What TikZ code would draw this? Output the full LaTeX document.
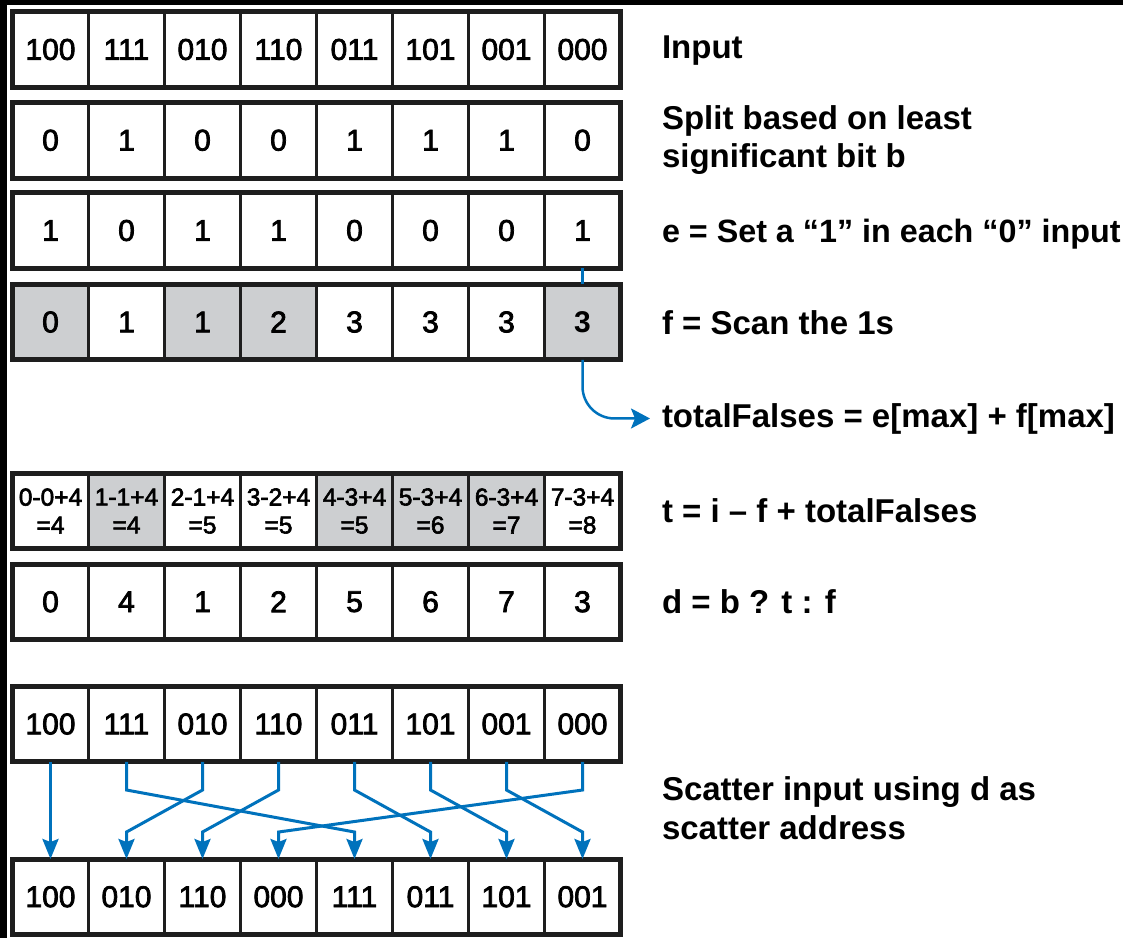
\documentclass[tikz,border=0pt]{standalone}
\usepackage{fontspec}
\setmainfont{Liberation Sans}
\newfontface\cellfont{Liberation Sans}[FakeBold=2.5]
\usetikzlibrary{arrows.meta}
\definecolor{flowblue}{RGB}{0,114,188}
\definecolor{cellgray}{RGB}{205,207,209}
\definecolor{inkblack}{RGB}{30,30,30}
\begin{document}
\begin{tikzpicture}[x=1pt,y=-1pt,
  cell/.style={draw=inkblack, line width=2.5pt, fill=white, minimum width=76pt,
    minimum height=75.5pt, inner sep=0pt, outer sep=0pt,
    font=\cellfont\fontsize{30}{30}\selectfont},
  boldcell/.style={cell, font=\fontsize{30}{30}\selectfont\bfseries},
  smallcell/.style={cell, font=\cellfont\fontsize{24.5}{28}\selectfont, align=center},
  frame/.style={draw=inkblack, line width=5pt},
  lab/.style={inner sep=0pt, outer sep=0pt, font=\fontsize{33}{38.5}\selectfont\bfseries, align=left},
  flow/.style={draw=flowblue, line width=3pt, -{Stealth[length=20pt,width=16pt,inset=3pt]}},
  link/.style={draw=flowblue, line width=2.5pt}
]
\useasboundingbox (0,0) rectangle (1123,938);
\fill[black] (0,0) rectangle (1123,938);
\fill[white] (7,5) rectangle (1123,938);

% Row 1: input
\foreach \v [count=\i from 0] in {100,111,010,110,011,101,001,000}
  \node[cell] (in\i) at ({50.5+76*\i},49.5) {\v};
\draw[frame] (in0.north west) rectangle (in7.south east);

% Row 2: split bits b
\foreach \v [count=\i from 0] in {0,1,0,0,1,1,1,0}
  \node[cell] (sp\i) at ({50.5+76*\i},140.25) {\v};
\draw[frame] (sp0.north west) rectangle (sp7.south east);

% Row 3: e
\foreach \v [count=\i from 0] in {1,0,1,1,0,0,0,1}
  \node[cell] (ev\i) at ({50.5+76*\i},230.5) {\v};
\draw[frame] (ev0.north west) rectangle (ev7.south east);

% Row 4: f
\foreach \v/\f [count=\i from 0] in {0/cellgray,1/white,1/cellgray,2/cellgray,3/white,3/white,3/white}
  \node[cell, fill=\f] (fs\i) at ({50.5+76*\i},322) {\v};
\node[boldcell, fill=cellgray] (fs7) at ({50.5+76*7},322) {3};
\draw[frame] (fs0.north west) rectangle (fs7.south east);

% Row t
\foreach \a/\b/\f [count=\i from 0] in {0-0+4/4/white,1-1+4/4/cellgray,2-1+4/5/white,3-2+4/5/white,4-3+4/5/cellgray,5-3+4/6/cellgray,6-3+4/7/cellgray,7-3+4/8/white}
  \node[smallcell, fill=\f] (tv\i) at ({50.5+76*\i},511) {\a\\=\b};
\draw[frame] (tv0.north west) rectangle (tv7.south east);

% Row d
\foreach \v [count=\i from 0] in {0,4,1,2,5,6,7,3}
  \node[cell] (dv\i) at ({50.5+76*\i},601.75) {\v};
\draw[frame] (dv0.north west) rectangle (dv7.south east);

% Row scatter source
\foreach \v [count=\i from 0] in {100,111,010,110,011,101,001,000}
  \node[cell] (sc\i) at ({50.5+76*\i},724) {\v};
\draw[frame] (sc0.north west) rectangle (sc7.south east);

% Row output
\foreach \v [count=\i from 0] in {100,010,110,000,111,011,101,001}
  \node[cell] (ou\i) at ({50.5+76*\i},896.75) {\v};
\draw[frame] (ou0.north west) rectangle (ou7.south east);

% Labels
\node[lab, anchor=base west] (lin) at (662,58) {Input};
\node[lab, anchor=west] (lsp) at (662,140) {Split based on least\\significant bit b};
\node[lab, anchor=base west, font=\fontsize{32.3}{38.5}\selectfont\bfseries] (lev) at (662,242) {e = Set a “1” in each “0” input};
\node[lab, anchor=base west] (lfs) at (662,334) {f = Scan the 1s};
\node[lab, anchor=base west] (ltf) at (662,427) {totalFalses = e[max] + f[max]};
\node[lab, anchor=base west] (ltv) at (662,522) {t = i -- f + totalFalses};
\node[lab, anchor=base west] (ldv) at (662,613) {d = b ? t : f};
\node[lab, anchor=west] (lsc) at (662,808) {Scatter input using d as\\scatter address};

% totalFalses connector
\draw[link] (ev7.south) -- (fs7.north);
\draw[link, rounded corners=32pt, shorten >=12pt,
  -{Stealth[length=19pt,width=20pt,inset=4pt]}] (fs7.south) |- (ltf.west);

% Scatter connectors
\coordinate (up) at (0,790);
\coordinate (lo) at (0,832);
\foreach \s/\t in {0/0,1/4,2/1,3/2,4/5,5/6,6/7,7/3}
  \draw[flow] (sc\s.south) -- (sc\s.south |- up) -- (ou\t.north |- lo) -- (ou\t.north);
\end{tikzpicture}
\end{document}
